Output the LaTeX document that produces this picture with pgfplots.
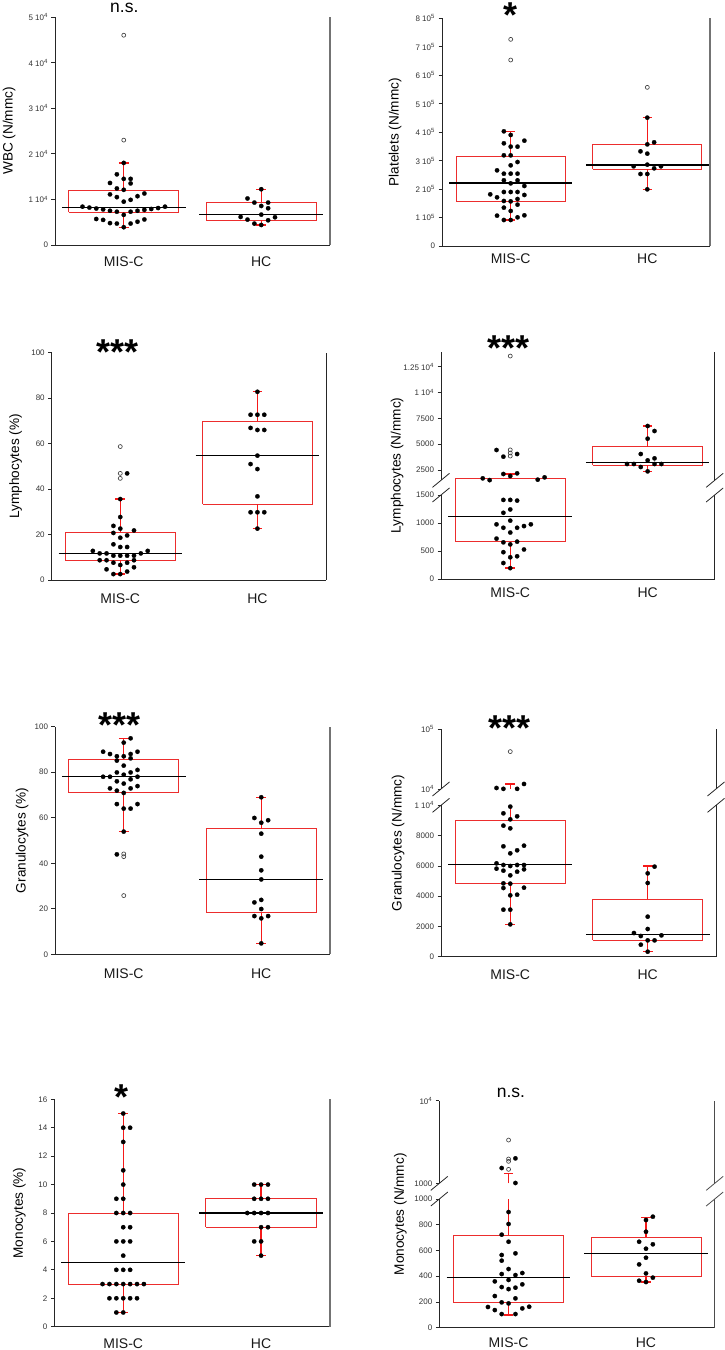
\documentclass[border=0pt]{standalone}
\usepackage{fontspec}
\setmainfont{Liberation Sans}
\usepackage{pgfplots}
\pgfplotsset{compat=1.18}
\definecolor{boxred}{RGB}{236,45,45}
\definecolor{whred}{RGB}{245,25,25}
\definecolor{axgray}{RGB}{115,115,115}
\newcommand{\sig}{\fontsize{36}{40}\bfseries\selectfont}
\newcommand{\nsf}{\fontsize{17.5}{20}\selectfont}
\newcommand{\sps}[1]{\textsuperscript{#1}}
\newcommand{\fputrafo}[1]{\pgflibraryfpuifactive{\pgfmathparse{#1}}{\begingroup\pgfkeys{/pgf/fpu=true,/pgf/fpu/output format=fixed}\pgfmathparse{#1}\pgfmathsmuggle\pgfmathresult\endgroup}}
\pgfplotsset{
  base/.style={
    scale only axis,
    axis x line*=bottom, axis y line*=left,
    axis line style={line width=0.8pt, black!85},
    xtick={0,1}, xticklabels={MIS-C,HC},
    xtick style={draw=none},
    xticklabel style={font=\fontsize{14}{16}\selectfont, text=black!90},
    ytick style={line width=0.7pt, black!85},
    tick align=outside, major tick length=3.5pt,
    yticklabel style={font=\fontsize{8}{9}\selectfont, text=black!80},
    ylabel style={font=\fontsize{13.6}{16}\selectfont, anchor=center},
    scaled y ticks=false,
    /pgf/number format/assume math mode=true,
    clip=false,
  },
  dot/.style={only marks, mark=*, mark size=2.2pt, mark options={fill=black, draw=black, line width=0.2pt}},
  opn/.style={only marks, mark=o, mark size=2pt, mark options={draw=black!75, line width=0.65pt, fill=white}},
  bx/.style={boxred, line width=0.9pt, mark=none},
  wh/.style={whred, line width=1.4pt, mark=none},
  md/.style={black, line width=1.3pt, mark=none},
}
% box at category 0: q1, q3, median, lower whisker, upper whisker
\newcommand{\boxA}[5]{%
  \addplot[bx] coordinates {(-0.4,#1) (0.4,#1) (0.4,#2) (-0.4,#2) (-0.4,#1)};
  \addplot[wh] coordinates {(0,#2) (0,#5)};
  \addplot[wh] coordinates {(-0.035,#5) (0.035,#5)};
  \addplot[wh] coordinates {(0,#1) (0,#4)};
  \addplot[wh] coordinates {(-0.035,#4) (0.035,#4)};
  \addplot[md] coordinates {(-0.45,#3) (0.45,#3)};
}
% box at category 0 with the upper whisker broken at the axis break (#6 lower top, #7 upper bottom)
\newcommand{\boxAs}[7]{%
  \addplot[bx] coordinates {(-0.4,#1) (0.4,#1) (0.4,#2) (-0.4,#2) (-0.4,#1)};
  \addplot[wh] coordinates {(0,#2) (0,#6)};
  \addplot[wh] coordinates {(0,#7) (0,#5)};
  \addplot[wh] coordinates {(-0.035,#5) (0.035,#5)};
  \addplot[wh] coordinates {(0,#1) (0,#4)};
  \addplot[wh] coordinates {(-0.035,#4) (0.035,#4)};
  \addplot[md] coordinates {(-0.45,#3) (0.45,#3)};
}
% box at category 1
\newcommand{\boxB}[5]{%
  \addplot[bx] coordinates {(0.6,#1) (1.4,#1) (1.4,#2) (0.6,#2) (0.6,#1)};
  \addplot[wh] coordinates {(1,#2) (1,#5)};
  \addplot[wh] coordinates {(0.965,#5) (1.035,#5)};
  \addplot[wh] coordinates {(1,#1) (1,#4)};
  \addplot[wh] coordinates {(0.965,#4) (1.035,#4)};
  \addplot[md] coordinates {(0.55,#3) (1.45,#3)};
}
\newcommand{\rgtline}[2]{\draw[#1, line width=#2] (rel axis cs:1,0) -- (rel axis cs:1,1);}
\newcommand{\brkaxis}[3]{%
  \draw[black!85, line width=0.8pt] (rel axis cs:0,0) -- (rel axis cs:0,#1);
  \draw[black!85, line width=0.8pt] (rel axis cs:0,#2) -- (rel axis cs:0,1);
  \draw[#3, line width=1pt] (rel axis cs:1,0) -- (rel axis cs:1,#1);
  \draw[#3, line width=1pt] (rel axis cs:1,#2) -- (rel axis cs:1,1);
  \draw[black!85, line width=0.8pt] ([xshift=-8.5pt,yshift=-7pt]rel axis cs:0,#1) -- ([xshift=8.5pt,yshift=7pt]rel axis cs:0,#1);
  \draw[black!85, line width=0.8pt] ([xshift=-8.5pt,yshift=-7pt]rel axis cs:0,#2) -- ([xshift=8.5pt,yshift=7pt]rel axis cs:0,#2);
  \draw[#3, line width=0.8pt] ([xshift=-8.5pt,yshift=-7pt]rel axis cs:1,#1) -- ([xshift=8.5pt,yshift=7pt]rel axis cs:1,#1);
  \draw[#3, line width=0.8pt] ([xshift=-8.5pt,yshift=-7pt]rel axis cs:1,#2) -- ([xshift=8.5pt,yshift=7pt]rel axis cs:1,#2);
}
\begin{document}
\begin{tikzpicture}
\useasboundingbox (0,0) rectangle (725pt,1350pt);

% ---------------- Panel 1: WBC
\begin{axis}[base, at={(55pt,1105pt)}, anchor=south west, width=275pt, height=228pt,
  xmin=-0.5, xmax=1.5, ymin=0, ymax=50000,
  ytick={0,10000,20000,30000,40000,50000},
  yticklabels={0,1 10\sps{4},2 10\sps{4},3 10\sps{4},4 10\sps{4},5 10\sps{4}},
  ylabel={WBC (N/mmc)}, ylabel style={at={([xshift=-46pt]axis description cs:0,0.5)}},
  xticklabel style={yshift=-4.6pt}]
\addplot[dot] table {
x y
0 18000
-0.05 15500
0 14500
0.05 14500
-0.1 13600
0.05 13500
-0.05 12400
0 12100
-0.1 11100
0.15 11300
0.1 10700
-0.05 10500
0.05 9900
0 9500
-0.3 8400
-0.25 8200
-0.2 8000
-0.15 7800
-0.1 7500
-0.05 7300
0.05 7300
0.1 7500
0.15 7700
0.2 7900
0.25 8100
0.3 8400
0 6600
-0.2 5700
-0.15 5500
0.15 5600
0.1 5100
-0.1 4800
-0.05 4700
0.05 4700
0 3900
1 12230
0.9 10200
0.95 9300
1.05 9300
1 8560
1.05 8050
1 6660
0.85 6150
1.1 6080
0.9 5560
1.05 5420
0.95 4690
1 4390
};
\addplot[opn] table {
x y
0 46000
0 23000
};
\boxA{7170}{12000}{8270}{3900}{18000}
\boxB{5420}{9370}{6660}{4390}{12230}
\rgtline{axgray}{1.3pt}
\node[font=\nsf] at ([yshift=8.7pt]axis description cs:0.252,1) {n.s.};
\end{axis}

% ---------------- Panel 2: Platelets
\begin{axis}[base, at={(442pt,1104pt)}, anchor=south west, width=268pt, height=227.7pt,
  xmin=-0.503, xmax=1.459, ymin=0, ymax=800000,
  ytick={0,100000,200000,300000,400000,500000,600000,700000,800000},
  yticklabels={0,1 10\sps{5},2 10\sps{5},3 10\sps{5},4 10\sps{5},5 10\sps{5},6 10\sps{5},7 10\sps{5},8 10\sps{5}},
  ylabel={Platelets (N/mmc)}, ylabel style={at={([xshift=-47pt]axis description cs:0,0.5)}},
  xticklabel style={yshift=-1pt}]
\addplot[dot] table {
x y
-0.05 402800
0 390000
0.1 370000
-0.05 360700
0 349000
0.05 349000
-0.05 318500
0 318500
0.05 295000
0 283400
-0.1 265800
-0.05 254100
0 254100
0.05 254100
-0.05 230700
0.05 230700
0 220100
0.1 210800
-0.05 189700
0 189700
0.05 189700
-0.15 181500
0.1 179200
-0.1 171000
0.05 165100
-0.05 158100
0 156900
0.05 145200
-0.05 134700
0 123000
-0.1 106600
0.1 107700
0.05 100700
-0.05 91300
0 91300
1 450800
1.05 364200
1 357100
0.95 332600
1 324400
0.9 279900
1 285700
1.1 279900
1.05 272800
0.95 252900
1 252900
1 199100
};
\addplot[opn] table {
x y
0 726000
0 653400
1 557400
};
\boxA{156900}{316200}{221300}{91300}{401600}
\boxB{269300}{356000}{284500}{199100}{450800}
\rgtline{axgray}{1.3pt}
\node[font=\sig] at ([yshift=3.6pt]axis description cs:0.255,1) {*};
\end{axis}

% ---------------- Panel 3: Lymphocytes %
\begin{axis}[base, at={(51.7pt,770pt)}, anchor=south west, width=274.3pt, height=227.3pt,
  xmin=-0.5, xmax=1.5, ymin=0, ymax=100,
  ytick={0,20,40,60,80,100},
  yticklabels={0,20,40,60,80,100},
  ylabel={Lymphocytes (\%)}, ylabel style={at={([xshift=-36pt]axis description cs:0,0.5)}},
  xticklabel style={yshift=-7pt}]
\addplot[dot] table {
x y
0.05 46.9
0 35.6
0 27.7
-0.05 23.8
0 22.6
0.1 21.8
-0.05 20.7
0.05 19.6
0 18.6
-0.05 15.7
0 14.5
0.05 14.5
-0.2 12.8
0.2 12.8
-0.15 11.7
-0.1 11.7
0.15 11.7
-0.05 10.7
0 10.7
0.05 10.7
0.1 10.7
-0.15 8.7
-0.1 8.7
0.1 8.7
-0.05 7.6
0.05 7.6
0 6.6
0.1 5.6
-0.1 4.7
0.05 3.7
-0.05 2.6
0 2.6
1 82.8
0.95 72.7
1 72.7
1.05 72.7
0.95 66.9
1 66.0
1.05 66.0
1 54.7
0.95 51.0
1 48.8
1 36.8
0.95 29.8
1 29.8
1.05 29.8
1 22.6
};
\addplot[opn] table {
x y
0 58.7
0 46.9
0 44.7
};
\boxA{8.7}{21.0}{11.6}{2.6}{35.6}
\boxB{33.3}{69.8}{54.7}{22.6}{82.8}
\rgtline{black!85}{0.9pt}
\node[font=\sig] at ([yshift=0.5pt]axis description cs:0.241,1) {***};
\end{axis}

% ---------------- Panel 4: Lymphocytes N/mmc (broken)
\begin{axis}[base, at={(441pt,771pt)}, anchor=south west, width=273.7pt, height=227.3pt,
  xmin=-0.504, xmax=1.488, ymin=0, ymax=13952,
  y coord trafo/.code={\fputrafo{(#1<=1500)?(0.056*#1):(109+0.0103333*(#1-2500))}},
  y axis line style={draw=none},
  ytick={0,500,1000,1500,2500,5000,7500,10000,12500},
  yticklabels={0,500,1000,1500,2500,5000,7500,1 10\sps{4},1.25 10\sps{4}},
  ylabel={Lymphocytes (N/mmc)}, ylabel style={at={([xshift=-44pt]axis description cs:0,0.5)}},
  xticklabel style={yshift=-1.3pt}]
\addplot[dot] table {
x y
-0.1 4436
0.05 4048
-0.05 3790
-0.05 2113
0 1919
0.05 2177
-0.2 1694
-0.15 1520
0.2 1564
0.25 1790
-0.05 1412
0 1412
0.05 1400
0 1242
-0.05 1182
0 1042
-0.1 976
0.15 976
0.1 945
-0.05 915
0.05 915
0 830
-0.1 721
-0.05 655
0.05 667
0 618
0.1 527
-0.05 479
0.05 406
0 388
-0.05 285
0 194
1 6758
1.05 6274
1 5532
0.95 4048
1.05 3629
1 3436
0.85 3081
0.9 3081
1.05 3081
1.1 3081
0.95 2790
1 2371
};
\addplot[opn] table {
x y
0 13530
0 4450
0 4150
0 3850
};
\boxA{667}{1694}{1115}{194}{2113}
\boxB{2952}{4758}{3242}{2371}{6758}
\brkaxis{0.3696}{0.4341}{black!85}
\node[font=\sig] at ([yshift=3.7pt]axis description cs:0.245,1) {***};
\end{axis}

% ---------------- Panel 5: Granulocytes %
\begin{axis}[base, at={(55pt,395.7pt)}, anchor=south west, width=275pt, height=227.6pt,
  xmin=-0.5, xmax=1.5, ymin=0, ymax=100,
  ytick={0,20,40,60,80,100},
  yticklabels={0,20,40,60,80,100},
  ylabel={Granulocytes (\%)}, ylabel style={at={([xshift=-33pt]axis description cs:0,0.5)}},
  xticklabel style={yshift=-7.7pt}]
\addplot[dot] table {
x y
0.05 94.9
0 93.0
-0.15 89.0
0.1 89.0
-0.1 88.0
0.05 88.0
-0.05 87.0
0 87.0
0.05 86.1
-0.05 85.1
0 82.9
0.1 81.0
-0.05 79.9
0.05 79.9
0 78.9
-0.15 78.0
-0.1 78.0
0.1 78.0
0.05 76.9
-0.05 76.0
0 75.0
0.1 73.9
-0.1 72.9
0.05 72.9
-0.05 71.9
0 70.9
-0.05 66.0
0.1 66.0
0 64.0
0.05 64.0
0 53.9
-0.05 43.9
1 69.0
0.95 59.9
1.05 58.9
1 57.8
1 53.0
1 42.9
1 36.9
1 32.9
1 23.9
0.95 22.8
1 19.9
0.95 16.8
1.05 16.8
1 15.8
1 4.8
};
\addplot[opn] table {
x y
0 44.1
0 42.9
0 25.8
};
\boxA{70.9}{85.8}{78.0}{53.9}{94.7}
\boxB{18.3}{55.2}{32.9}{4.8}{69.0}
\rgtline{axgray}{1.3pt}
\node[font=\sig] at ([yshift=2pt]axis description cs:0.233,1) {***};
\end{axis}

% ---------------- Panel 6: Granulocytes N/mmc (broken)
\begin{axis}[base, at={(441pt,393.3pt)}, anchor=south west, width=275pt, height=227.4pt,
  xmin=-0.504, xmax=1.497, ymin=0, ymax=100000,
  y coord trafo/.code={\fputrafo{(#1<=10000)?(0.0151333*#1):(167.7+59.67*(ln(max(#1,1))/2.302585-4))}},
  y axis line style={draw=none},
  ytick={0,2000,4000,6000,8000,10000,10000.5,100000},
  yticklabels={0,2000,4000,6000,8000,1 10\sps{4},10\sps{4},10\sps{5}},
  ylabel={Granulocytes (N/mmc)}, ylabel style={at={([xshift=-43pt]axis description cs:0,0.5)}},
  xticklabel style={yshift=-5.9pt}]
\addplot[dot] table {
x y
0.1 12130
-0.1 10390
-0.05 10050
0.05 10050
0 9914
-0.05 9473
0.05 9275
0 9076
-0.05 8658
0 8482
-0.05 7292
0.1 7336
0.05 7028
0 6829
-0.1 6168
-0.05 6058
0 5992
0.05 6058
0.1 6058
-0.1 5816
0.1 5772
-0.05 5684
0.05 5618
0 5375
-0.05 4847
0 4825
-0.05 4538
0.1 4560
0 4054
0.05 4098
-0.05 3106
0 3106
0 2137
1.05 5948
1 5508
1 4869
1 2644
1 1829
0.9 1564
0.95 1366
1.1 1410
1 1080
1.05 1080
0.95 793
1 330
};
\addplot[opn] table {
x y
0 42300
};
\boxAs{4825}{9032}{6102}{2137}{12130}{10000}{10000.5}
\boxB{1080}{3789}{1476}{330}{5992}
\brkaxis{0.6656}{0.7376}{black!85}
\node[font=\sig] at ([yshift=1.3pt]axis description cs:0.25,1) {***};
\end{axis}

% ---------------- Panel 7: Monocytes %
\begin{axis}[base, at={(54.3pt,23.3pt)}, anchor=south west, width=275.7pt, height=227.4pt,
  xmin=-0.5, xmax=1.5, ymin=0, ymax=16,
  ytick={0,2,4,6,8,10,12,14,16},
  yticklabels={0,2,4,6,8,10,12,14,16},
  ylabel={Monocytes (\%)}, ylabel style={at={([xshift=-35pt]axis description cs:0,0.5)}},
  xticklabel style={yshift=-5.3pt}]
\addplot[dot] table {
x y
0 15
0 14
0.05 14
0 13
0 11
0 10
-0.05 9
0 9
-0.05 8
0 8
0.05 8
0 7
0.05 7
-0.05 6
0 6
0.05 6
0 5
-0.05 4
0 4
0.05 4
-0.15 3
-0.1 3
-0.05 3
0 3
0.05 3
0.1 3
0.15 3
-0.1 2
-0.05 2
0 2
0.05 2
0.1 2
-0.05 1
0 1
0.95 10
1 10
1.05 10
0.95 9
1 9
1.05 9
0.9 8
0.95 8
1 8
1.05 8
1 7
1.05 7
0.95 6
1 6
1 5
};
\boxA{3}{8}{4.5}{1}{15}
\boxB{7}{9}{8}{5}{10}
\rgtline{axgray}{1.3pt}
\node[font=\sig] at ([yshift=2.6pt]axis description cs:0.243,1) {*};
\end{axis}

% ---------------- Panel 8: Monocytes N/mmc (broken)
\begin{axis}[base, at={(439.3pt,22.3pt)}, anchor=south west, width=275.4pt, height=227pt,
  xmin=-0.504, xmax=1.5, ymin=0, ymax=10000,
  y coord trafo/.code={\fputrafo{(#1<=1000)?(0.1287*#1):(144.4+82.67*(ln(max(#1,1))/2.302585-3))}},
  y axis line style={draw=none},
  ytick={0,200,400,600,800,1000,1000.05,10000},
  yticklabels={0,200,400,600,800,1000,1000,10\sps{4}},
  ylabel={Monocytes (N/mmc)}, ylabel style={at={([xshift=-39pt]axis description cs:0,0.5)}},
  xticklabel style={yshift=-2.6pt}]
\addplot[dot] table {
x y
0.05 2006
-0.05 1532
0.05 1010
0 899
0 806
-0.05 723
0 668
-0.05 565
0.05 578
-0.05 521
0 456
-0.05 417
0.05 409
0.1 425
-0.1 360
0 371
-0.05 316
0 300
0.05 311
0.1 337
-0.1 246
0.05 228
-0.05 197
0 189
-0.15 161
-0.1 137
0.1 150
0.15 163
-0.05 106
0.05 106
1.05 863
1 837
1 746
0.95 668
1.05 648
1 614
1 544
0.95 492
1 422
1.05 389
0.95 365
1 355
};
\addplot[opn] table {
x y
0 3340
0 1970
0 1846
0 1477
};
\boxAs{194}{720}{389}{98}{1321}{1000}{1000.05}
\boxB{402}{702}{578}{355}{858}
\brkaxis{0.5668}{0.6359}{black!70}
\node[font=\nsf] at ([yshift=8.2pt]axis description cs:0.26,1) {n.s.};
\end{axis}
\end{tikzpicture}
\end{document}
